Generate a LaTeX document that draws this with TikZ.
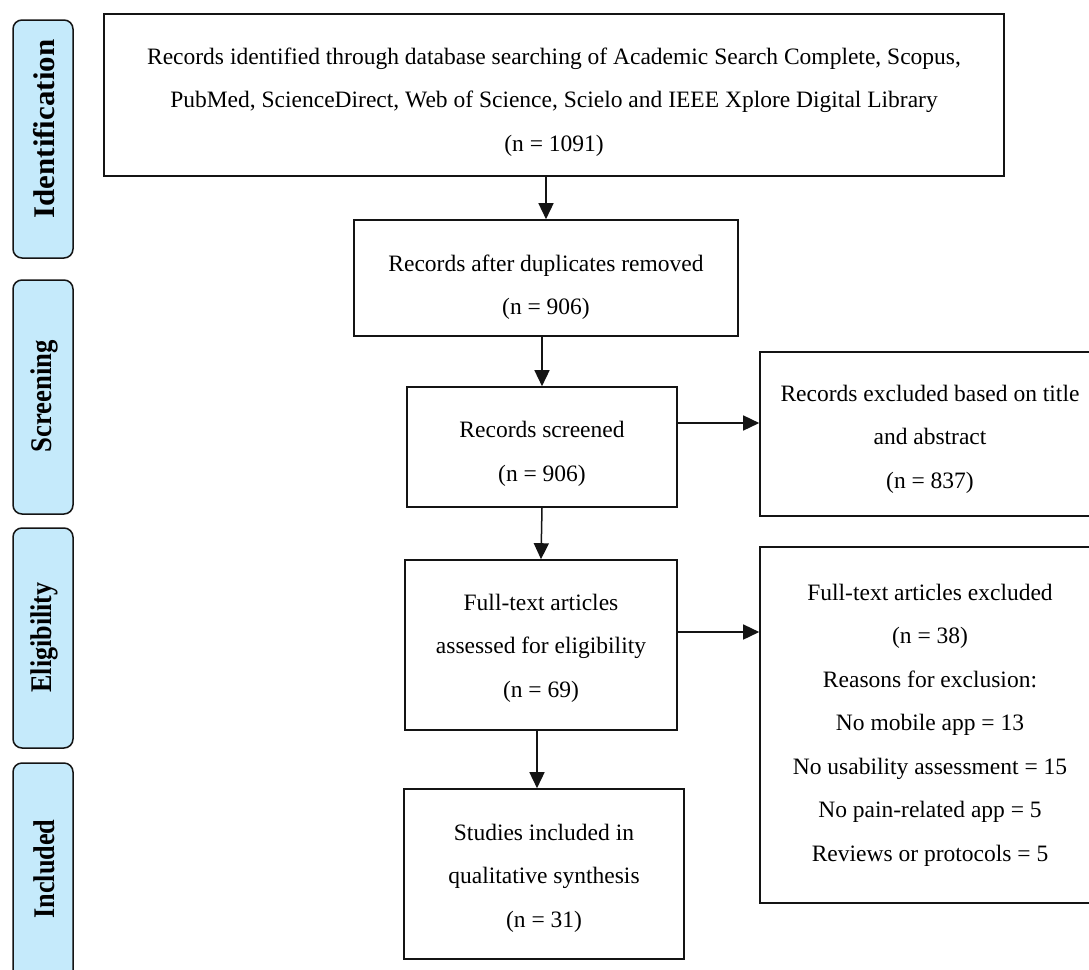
\documentclass[tikz,border=0pt]{standalone}
\usepackage{fontspec}
\setmainfont{Liberation Serif}
\usetikzlibrary{arrows.meta,calc}
\definecolor{sidefill}{RGB}{197,234,251}
\definecolor{lineblk}{RGB}{20,20,20}
\newcommand{\sidelab}[2]{\scalebox{#1}[1]{\fontsize{30}{30}\selectfont\bfseries #2}}
\tikzset{
  flowbox/.style={draw=lineblk, line width=1.6pt, fill=white, inner sep=0pt},
  flowtext/.style={align=center, inner sep=0pt, font=\fontsize{23.5}{43.5}\selectfont},
  sidebox/.style={draw=lineblk, line width=1.5pt, fill=sidefill, rounded corners=9pt, inner sep=0pt,
    minimum width=60pt},
  sidetext/.style={rotate=90, inner sep=0pt},
  flowarrow/.style={draw=lineblk, line width=1.5pt, -{Triangle[length=16pt,width=15pt]}}
}
\begin{document}
\begin{tikzpicture}[x=1pt,y=-1pt]
\useasboundingbox (0,0) rectangle (1089,969);
\clip (0,0) rectangle (1089,969);
\fill[white] (0,0) rectangle (1089,969);
% side labels
\node[sidebox, minimum height=238pt] (s1) at (43,139) {};
\node[sidetext] (t1) at (44,129) {\sidelab{1.03}{Identification}};
\node[sidebox, minimum height=234pt] (s2) at (43,397) {};
\node[sidetext] (t2) at (44,396) {\sidelab{0.89}{Screening}};
\node[sidebox, minimum height=220pt] (s3) at (43,638) {};
\node[sidetext] (t3) at (44,637.5) {\sidelab{0.87}{Eligibility}};
\node[sidebox, minimum height=240pt] (s4) at (43,883) {};
\node[sidetext] (t4) at (44,869) {\sidelab{0.875}{Included}};
% main boxes
\node[flowbox, minimum width=900pt, minimum height=162pt] (id) at (554,95) {};
\node[flowtext] (idT) at ($(id.center)+(0,7)$)
  {Records identified through database searching of Academic Search Complete, Scopus,\\
   PubMed, ScienceDirect, Web of Science, Scielo and IEEE Xplore Digital Library\\
   (n = 1091)};
\node[flowbox, minimum width=384pt, minimum height=116pt] (dup) at (546,278) {};
\node[flowtext] (dupT) at ($(dup.center)+(0,9)$)
  {Records after duplicates removed\\(n = 906)};
\node[flowbox, minimum width=270pt, minimum height=120pt] (scr) at (542,447) {};
\node[flowtext] (scrT) at ($(scr.center)+(0,7)$)
  {Records screened\\(n = 906)};
\node[flowbox, minimum width=340pt, minimum height=164pt] (exc1) at (930,434) {};
\node[flowtext] (exc1T) at ($(exc1.center)+(0,5)$)
  {Records excluded based on title\\and abstract\\(n = 837)};
\node[flowbox, minimum width=272pt, minimum height=170pt] (full) at (541,645) {};
\node[flowtext] (fullT) at ($(full.center)+(0,3)$)
  {Full-text articles\\assessed for eligibility\\(n = 69)};
\node[flowbox, minimum width=340pt, minimum height=356pt] (exc2) at (930,725) {};
\node[flowtext] (exc2T) at ($(exc2.center)+(0,0)$)
  {Full-text articles excluded\\(n = 38)\\Reasons for exclusion:\\No mobile app = 13\\
   No usability assessment = 15\\No pain-related app = 5\\Reviews or protocols = 5};
\node[flowbox, minimum width=280pt, minimum height=170pt] (inc) at (544,874) {};
\node[flowtext] (incT) at ($(inc.center)+(0,4)$)
  {Studies included in\\qualitative synthesis\\(n = 31)};
% connectors
\draw[flowarrow] (id.south -| dup.north) -- (dup.north);
\draw[flowarrow] (dup.south -| scr.north) -- (scr.north);
\draw[flowarrow] (scr.south) -- (full.north);
\coordinate (a3) at (537,760);
\draw[flowarrow] (full.south -| a3) -- (inc.north -| a3);
\coordinate (a1) at (700,423);
\coordinate (a2) at (700,632);
\draw[flowarrow] (a1 -| scr.east) -- (a1 -| exc1.west);
\draw[flowarrow] (a2 -| full.east) -- (a2 -| exc2.west);
\end{tikzpicture}
\end{document}
